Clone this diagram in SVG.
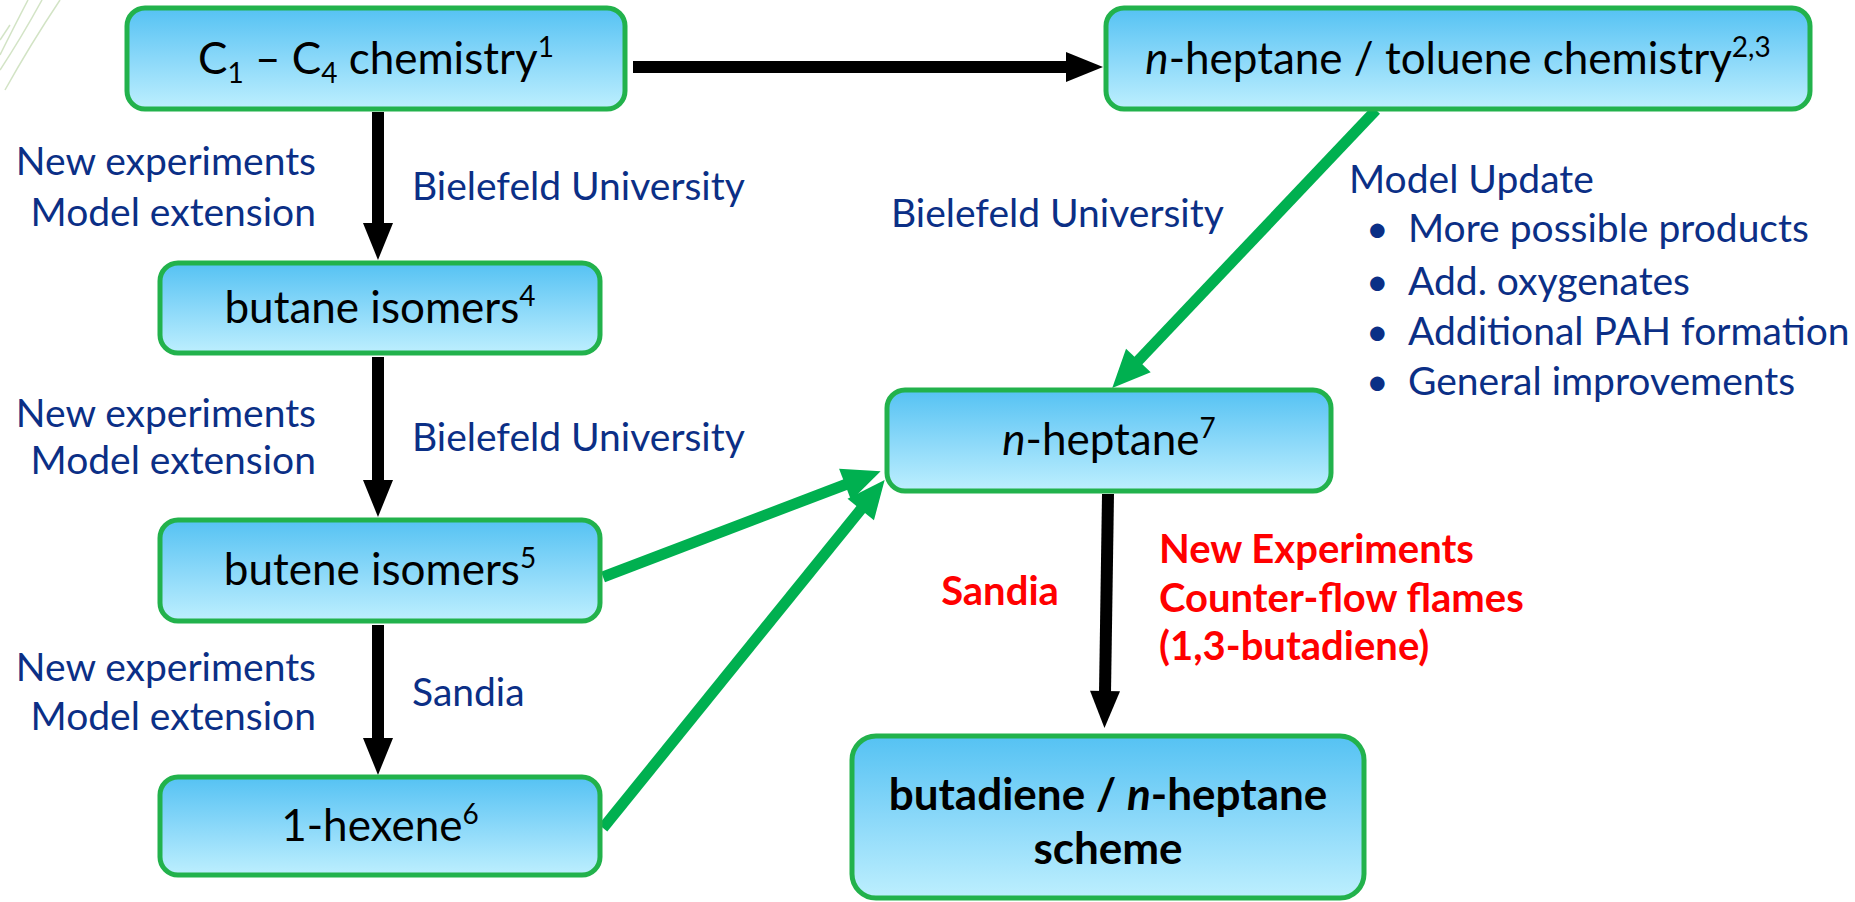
<svg xmlns="http://www.w3.org/2000/svg" width="1855" height="902" viewBox="0 0 1855 902">
<style>
.box{fill:url(#bg);stroke:#22B24C;stroke-width:5}
.bt{font-family:Lato,"Open Sans",sans-serif;font-size:44px;fill:#000;text-anchor:middle}
.lb{font-family:Lato,"Open Sans",sans-serif;font-size:39px;fill:#0B2F86}
.rd{font-family:Lato,"Open Sans",sans-serif;font-size:40px;fill:#FF0000;font-weight:bold}
.blk{stroke:#000;stroke-width:12;fill:none}
.grn{stroke:#00B050;stroke-width:11;fill:none}
</style>
<defs>
<linearGradient id="bg" x1="0" y1="0" x2="0" y2="1">
<stop offset="0" stop-color="#55C2F3"/>
<stop offset="0.5" stop-color="#8AD8F9"/>
<stop offset="1" stop-color="#BDEFFE"/>
</linearGradient>
<linearGradient id="lf" x1="0" y1="0" x2="1" y2="1">
<stop offset="0" stop-color="#9CC27E"/>
<stop offset="1" stop-color="#E4EFDC"/>
</linearGradient>
<marker id="ha" markerUnits="userSpaceOnUse" markerWidth="40" markerHeight="32" refX="2" refY="15" orient="auto" overflow="visible">
<path d="M0,0 L37,15 L0,30 z" fill="#000"/>
</marker>
<marker id="hg" markerUnits="userSpaceOnUse" markerWidth="40" markerHeight="36" refX="2" refY="17" orient="auto" overflow="visible">
<path d="M0,0 L38,17 L0,34 z" fill="#00B050"/>
</marker>
</defs>
<rect width="1855" height="902" fill="#fff"/>
<g id="decor" fill="none" stroke="url(#lf)" stroke-width="1.5" opacity="0.7">
<path d="M0,70 Q20,40 42,0"/>
<path d="M0,55 Q15,25 28,0"/>
<path d="M5,90 Q30,45 60,0"/>
<path d="M0,40 L10,25"/>
</g>
<g id="connectors">
<line class="blk" x1="633" y1="67" x2="1068" y2="67" marker-end="url(#ha)"/>
<line class="blk" x1="378" y1="112" x2="378" y2="225" marker-end="url(#ha)"/>
<line class="blk" x1="378" y1="357" x2="378" y2="482" marker-end="url(#ha)"/>
<line class="blk" x1="378" y1="625" x2="378" y2="740" marker-end="url(#ha)"/>
<line class="blk" x1="1108" y1="494" x2="1105" y2="693" marker-end="url(#ha)"/>
<line class="grn" x1="1376" y1="110" x2="1137" y2="362" marker-end="url(#hg)"/>
<line class="grn" x1="603" y1="577" x2="847" y2="484" marker-end="url(#hg)"/>
<line class="grn" x1="603" y1="828" x2="862" y2="508" marker-end="url(#hg)"/>
</g>
<g id="n-c1c4">
<rect class="box" x="127" y="8" width="498" height="101" rx="18"/>
<text class="bt" x="376" y="74">C<tspan font-size="28" dy="9">1</tspan><tspan dy="-9"> – C</tspan><tspan font-size="28" dy="9">4</tspan><tspan dy="-9"> chemistry</tspan><tspan font-size="28" dy="-17">1</tspan></text>
</g>
<g id="n-toluene">
<rect class="box" x="1106" y="8" width="704" height="101" rx="18"/>
<text class="bt" x="1458" y="74"><tspan font-style="italic">n</tspan>-heptane / toluene chemistry<tspan font-size="28" dy="-17">2,3</tspan></text>
</g>
<g id="n-butane">
<rect class="box" x="160" y="263" width="440" height="90" rx="18"/>
<text class="bt" x="380" y="323">butane isomers<tspan font-size="28" dy="-17">4</tspan></text>
</g>
<g id="n-butene">
<rect class="box" x="160" y="520" width="440" height="101" rx="18"/>
<text class="bt" x="380" y="585">butene isomers<tspan font-size="28" dy="-17">5</tspan></text>
</g>
<g id="n-hexene">
<rect class="box" x="160" y="777" width="440" height="98" rx="18"/>
<text class="bt" x="380" y="841">1-hexene<tspan font-size="28" dy="-17">6</tspan></text>
</g>
<g id="n-heptane">
<rect class="box" x="887" y="390" width="444" height="101" rx="18"/>
<text class="bt" x="1109" y="455"><tspan font-style="italic">n</tspan>-heptane<tspan font-size="28" dy="-17">7</tspan></text>
</g>
<g id="n-scheme">
<rect class="box" x="852" y="736" width="512" height="162" rx="24"/>
<text class="bt" x="1108" y="810" font-size="45" font-weight="bold">butadiene / <tspan font-style="italic">n</tspan>-heptane</text>
<text class="bt" x="1108" y="864" font-size="45" font-weight="bold">scheme</text>
</g>
<g id="labels">
<text class="lb" x="316" y="175" text-anchor="end">New experiments</text>
<text class="lb" x="316" y="226" text-anchor="end">Model extension</text>
<text class="lb" x="412" y="200">Bielefeld University</text>
<text class="lb" x="316" y="427" text-anchor="end">New experiments</text>
<text class="lb" x="316" y="474" text-anchor="end">Model extension</text>
<text class="lb" x="412" y="451">Bielefeld University</text>
<text class="lb" x="316" y="681" text-anchor="end">New experiments</text>
<text class="lb" x="316" y="730" text-anchor="end">Model extension</text>
<text class="lb" x="412" y="706">Sandia</text>
<text class="lb" x="891" y="227">Bielefeld University</text>
<text class="lb" x="1349" y="193">Model Update</text>
<text class="lb" x="1366" y="242">•</text>
<text class="lb" x="1408" y="242">More possible products</text>
<text class="lb" x="1366" y="295">•</text>
<text class="lb" x="1408" y="295">Add. oxygenates</text>
<text class="lb" x="1366" y="345">•</text>
<text class="lb" x="1408" y="345">Additional PAH formation</text>
<text class="lb" x="1366" y="395">•</text>
<text class="lb" x="1408" y="395">General improvements</text>
<text class="rd" x="1000" y="605" text-anchor="middle">Sandia</text>
<text class="rd" x="1159" y="563">New Experiments</text>
<text class="rd" x="1159" y="612">Counter-flow flames</text>
<text class="rd" x="1159" y="660">(1,3-butadiene)</text>
</g>
</svg>
